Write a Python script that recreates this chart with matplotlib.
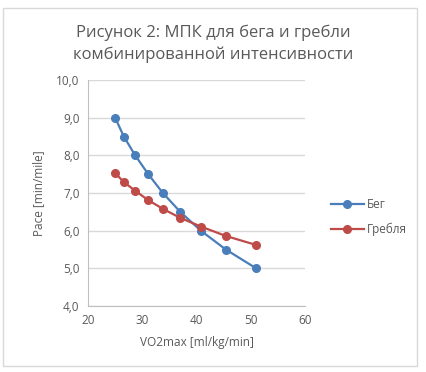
import matplotlib.pyplot as plt
from matplotlib.patches import Rectangle

vo2 = [25.0, 26.6, 28.7, 31.1, 33.8, 37.0, 40.8, 45.4, 51.0]
run_pace = [9.0, 8.5, 8.0, 7.5, 7.0, 6.5, 6.0, 5.5, 5.0]
row_pace = [7.53, 7.29, 7.06, 6.81, 6.58, 6.34, 6.11, 5.86, 5.62]
labels = ['Бег', 'Гребля']

plt.rcParams['font.family'] = ['Open Sans', 'DejaVu Sans']
txt = '#595959'

fig = plt.figure(figsize=(4.27, 3.72), dpi=100)
fig.patches.append(Rectangle((3/427, 1 - 366/372), 414/427, 358/372, transform=fig.transFigure,
                             fill=False, edgecolor='#d9d9d9', lw=1))
ax = fig.add_axes([88/427, 1 - 306/372, 217/427, 226/372])

ax.plot(vo2, run_pace, '-o', color='#4a7ebb', lw=1.6, ms=5.5, label=labels[0])
ax.plot(vo2, row_pace, '-o', color='#be4b48', lw=1.6, ms=5.5, label=labels[1])

ax.set_xlim(20, 60)
ax.set_ylim(4, 10)
ax.set_xticks(range(20, 61, 10))
ax.set_yticks(range(4, 11))
ax.set_yticklabels([f'{v},0' for v in range(4, 11)])
ax.grid(axis='y', color='#d9d9d9', lw=1)
ax.set_axisbelow(True)
for s in ['top', 'right']:
    ax.spines[s].set_visible(False)
for s in ['left', 'bottom']:
    ax.spines[s].set_color('#bfbfbf')
ax.tick_params(length=0, labelsize=8.5, colors=txt, pad=6)
ax.set_xlabel('VO2max [ml/kg/min]', color=txt, fontsize=8.5, labelpad=6)
ax.set_ylabel('Pace [min/mile]', color=txt, fontsize=8.5, labelpad=8)

fig.text(0.5, 1 - 44/372, 'Рисунок 2: МПК для бега и гребли\nкомбинированной интенсивности',
         ha='center', va='center', fontsize=12, color=txt, linespacing=1.45)

leg = ax.legend(loc='center left', bbox_to_anchor=(320/427, 1 - 217/372), bbox_transform=fig.transFigure,
                frameon=False, fontsize=8.5, handlelength=2.8, labelspacing=1.0, handletextpad=0.3)
for t in leg.get_texts():
    t.set_color(txt)

fig.savefig('out.png', dpi=100)
